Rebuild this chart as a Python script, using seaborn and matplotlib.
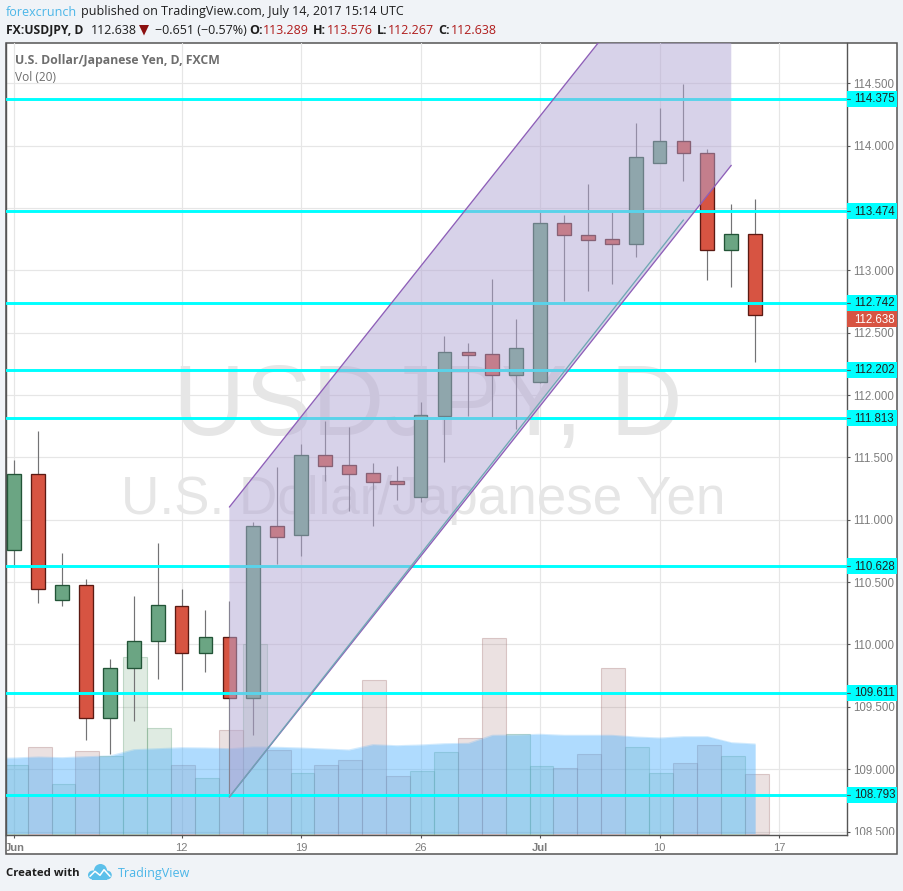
#!/usr/bin/env python3
"""USD/JPY daily candles with channel, support lines and volume, TradingView look."""

import numpy as np
import pandas as pd
import matplotlib
matplotlib.use("Agg")
import matplotlib.pyplot as plt
import seaborn as sns
from matplotlib.colors import to_rgb
from matplotlib.patches import Ellipse, Polygon, Rectangle
from matplotlib.transforms import Bbox, TransformedBbox

W, H = 904, 891

# --- data ---
opens = [110.755, 111.365, 110.354, 110.474, 109.408, 109.809, 110.025, 110.306,
         109.929, 110.057, 109.568, 110.948, 110.880, 111.517, 111.437, 111.373,
         111.308, 111.185, 111.834, 112.343, 112.327, 112.163, 112.102, 113.380,
         113.280, 113.249, 113.209, 113.863, 114.035, 113.939, 113.161, 113.289]
highs = [111.479, 111.712, 110.734, 110.525, 109.884, 110.389, 110.814, 110.445,
         110.276, 110.349, 110.982, 111.423, 111.608, 111.792, 111.741, 111.455,
         111.431, 111.944, 112.474, 112.417, 112.931, 112.610, 113.476, 113.444,
         113.693, 113.468, 114.182, 114.302, 114.494, 113.973, 113.532, 113.576]
lows = [110.637, 110.335, 110.311, 109.234, 109.122, 109.386, 109.726, 109.637,
        109.782, 108.793, 109.274, 110.645, 110.709, 111.313, 111.070, 110.952,
        111.158, 111.142, 111.466, 111.834, 111.824, 111.730, 112.093, 112.757,
        112.834, 112.893, 113.107, 113.863, 113.717, 112.923, 112.869, 112.267]
closes = [111.365, 110.442, 110.474, 109.408, 109.809, 110.025, 110.314, 109.929,
          110.057, 109.568, 110.948, 110.864, 111.517, 111.434, 111.369, 111.305,
          111.289, 111.838, 112.343, 112.324, 112.163, 112.375, 113.380, 113.280,
          113.243, 113.209, 113.907, 114.035, 113.939, 113.161, 113.289, 112.638]
volumes = [68.5, 87, 50, 83, 77.5, 177, 106, 69, 56, 104, 190, 84, 61, 69, 74, 153.5,
           58, 62.5, 82, 96, 195.5, 100, 68, 66, 80, 165.5, 87, 61, 71, 89, 78, 60]
# starts one session before the first candle, the area runs off the left edge
vol_ma = [75, 75.5, 76.5, 75.8, 76.8, 77.5, 83.8, 84.8, 85.8, 85.5, 84.8, 86.5, 86.2,
          85.5, 84.5, 83.5, 88.8, 87.8, 88.5, 89.8, 90.2, 98.2, 98.5, 99.2, 98.2,
          98.2, 98.2, 96.5, 95.5, 96.8, 96.8, 90.8, 89.5]

levels = [114.375, 113.474, 112.742, 112.202, 111.813, 110.628, 109.611, 108.793]
last_price = 112.638
price_ticks = [108.5, 109.0, 109.5, 110.0, 110.5, 111.0, 111.5, 112.0, 112.5, 113.0,
               113.5, 114.0, 114.5]
date_ticks = [0, 7, 12, 17, 22, 27, 32]
date_labels = ["Jun", "12", "19", "26", "Jul", "10", "17"]

channel_x = [9, 30]
channel_low = [108.777, 113.842]
channel_up = [111.102, 116.167]
trend_x = [9, 28]
trend_y = [108.777, 113.404]

# --- colours ---
BG = "#f0f3f7"
UP, UP_EDGE = "#6ba583", "#225437"
DOWN, DOWN_EDGE = "#d75442", "#5b1a13"
WICK = "#737375"
CYAN = "#00ffff"
FRAME = "#555555"
GRID = "#e6e6e6"
LABEL = "#7d7d7d"
LINK = "#4bb6e8"
QUOTE_RED = "#b01c1c"
HEAD = "#1e1e1e"
SANS = "Liberation Sans"
HEAD_FONT = "Open Sans"


def fx(x):
    return x / W


def fy(y):
    return 1 - y / H


def px_to_fig(pts):
    return [(fx(x), fy(y)) for x, y in pts]


sns.set_theme(style="white")
plt.rcParams["font.family"] = [HEAD_FONT, "DejaVu Sans"]

fig = plt.figure(figsize=(W / 100, H / 100), dpi=100, facecolor=BG)

# white panel with its frame, behind all the axes
fig.add_artist(Rectangle((fx(6.5), fy(854.3)), fx(897.3 - 6.5), 811 / H,
                         transform=fig.transFigure, facecolor="white",
                         edgecolor=FRAME, linewidth=1.1, zorder=-1))

pos = [fx(6.5), fy(835), fx(846.7 - 6.5), 792 / H]
xlim = (-0.326, 34.83)
ylim = (108.472, 114.823)

# grid and watermark at the bottom
ax_bg = fig.add_axes(pos, zorder=1)
ax_bg.set_xlim(xlim)
ax_bg.set_ylim(ylim)
ax_bg.set_xticks(date_ticks)
ax_bg.set_yticks(price_ticks)
ax_bg.grid(True, color=GRID, linewidth=0.85)
ax_bg.tick_params(left=False, bottom=False, labelleft=False, labelbottom=False)
for s in ax_bg.spines.values():
    s.set_visible(False)
ax_bg.patch.set_visible(False)
ax_bg.text(17.32, 111.89, "USDJPY, D", family=SANS, fontsize=72, color="#e6e6e6",
           ha="center", va="center")
ax_bg.text(17.12, 111.16, "U.S. Dollar/Japanese Yen", family=SANS, fontsize=38.2,
           color="#e6e6e6", ha="center", va="center")

# volume, own scale in the same place
ax_vol = fig.add_axes(pos, zorder=2)
ax_vol.patch.set_visible(False)
vol_df = pd.DataFrame({
    "session": np.arange(len(volumes)) + 0.06,
    "volume": volumes,
    "dir": ["up" if c >= o else "down" for o, c in zip(opens, closes)],
})
sns.barplot(data=vol_df, x="session", y="volume", hue="dir", dodge=False, native_scale=True,
            width=1.0, palette={"up": "#55a569", "down": "#a56464"}, legend=False, ax=ax_vol)
for bar in ax_vol.patches:
    rgb = to_rgb(bar.get_facecolor()[:3])
    bar.set_alpha(None)
    bar.set_facecolor((*rgb, 0.2))
    bar.set_edgecolor((*rgb, 0.33))
    bar.set_linewidth(0.8)
ma_x = np.arange(-1, len(volumes))
ax_vol.fill_between(ma_x, vol_ma, 0, color="#4fb1fd", alpha=0.45, linewidth=0, zorder=3)
sns.lineplot(x=ma_x, y=vol_ma, color="#4fb1fd", alpha=0.25, linewidth=0.8, ax=ax_vol, zorder=3)
ax_vol.set_xlim(xlim)
ax_vol.set_ylim(-1.5, 790.5)
ax_vol.axis("off")

# candles, levels and channel on top
ax = fig.add_axes(pos, zorder=3)
ax.patch.set_visible(False)
ax.set_xlim(xlim)
ax.set_ylim(ylim)

xs = np.arange(len(opens))
o, c = np.array(opens), np.array(closes)
up = c >= o
ax.vlines(xs, lows, highs, color=WICK, linewidth=0.85, zorder=2)
ax.bar(xs, np.abs(c - o), bottom=np.minimum(o, c), width=0.575,
       color=[UP if u else DOWN for u in up],
       edgecolor=[UP_EDGE if u else DOWN_EDGE for u in up], linewidth=0.95, zorder=3)

for lv in levels:
    ax.axhline(lv, color=CYAN, linewidth=2.1, zorder=4)

ax.fill_between(channel_x, channel_low, channel_up, color="#b2a7d4", alpha=0.51,
                linewidth=0, zorder=5)
ax.plot(channel_x, channel_low, color="#8e5fb8", linewidth=0.95, zorder=6)
ax.plot(channel_x, channel_up, color="#8e5fb8", linewidth=0.95, zorder=6)
ax.plot(trend_x, trend_y, color="#6fa8b4", linewidth=0.95, zorder=6)

# axes furniture; 113.500 sits behind the 113.474 box in the reference, no label needed
ax.yaxis.tick_right()
ax.set_yticks(price_ticks)
ax.set_yticklabels(["" if t == 113.5 else f"{t:.3f}" for t in price_ticks], family=SANS,
                   fontsize=8.3, color=LABEL)
ax.set_xticks(date_ticks)
ax.set_xticklabels(date_labels, family=SANS, fontsize=8.0, color=LABEL)
ax.tick_params(axis="y", right=True, length=2, width=0.8, color=FRAME, pad=3.0)
ax.tick_params(axis="x", bottom=True, length=2.5, width=0.8, color=FRAME, pad=3.4)
for lab, txt in zip(ax.get_xticklabels(), date_labels):
    if txt in ("Jun", "Jul"):
        lab.set_fontweight("bold")
ax.spines["top"].set_visible(False)
for name in ("left", "right", "bottom"):
    ax.spines[name].set_color(FRAME)
    ax.spines[name].set_linewidth(1.0)

# 108.500 is cut off by the bottom of the pane
clip_bb = TransformedBbox(Bbox([[fx(846), fy(835)], [fx(897), fy(43)]]), fig.transFigure)
for lab in ax.get_yticklabels():
    lab.set_clip_on(True)
    lab.set_clip_box(clip_bb)

# price boxes on the scale
ytrans = ax.get_yaxis_transform()
box_w = 50 / 840.2
box_h = 16 / 124.7
txt_x = 1 + 7.0 / 840.2
for lv in levels:
    ax.add_patch(Rectangle((1.0, lv - box_h / 2), box_w, box_h, transform=ytrans,
                           facecolor=CYAN, edgecolor="none", clip_on=False, zorder=7))
    ax.text(txt_x, lv - 0.004, f"{lv:.3f}", transform=ytrans, family=SANS, fontsize=8.3,
            color="#222222", ha="left", va="center", clip_on=False, zorder=8)
    ax.plot([1.0, 1 + 3 / 840.2], [lv, lv], transform=ytrans, color=FRAME, linewidth=0.8,
            clip_on=False, zorder=8)
# the last price box is pushed down a little to clear the 112.742 box
last_y = last_price - 0.029
ax.add_patch(Rectangle((1.0, last_y - box_h / 2), box_w, box_h, transform=ytrans,
                       facecolor=DOWN, edgecolor="none", clip_on=False, zorder=7))
ax.text(txt_x, last_y - 0.004, f"{last_price:.3f}", transform=ytrans, family=SANS,
        fontsize=8.3, color="white", ha="left", va="center", clip_on=False, zorder=8)

# pane captions
fig.text(fx(15), fy(60.5), "U.S. Dollar/Japanese Yen, D, FXCM", family=HEAD_FONT, fontsize=8.8,
         color="#6e6e6e", fontweight="bold", va="center", ha="left", zorder=10)
fig.text(fx(15), fy(77.5), "Vol (20)", family=HEAD_FONT, fontsize=8.6, color="#6e6e6e",
         va="center", ha="left", zorder=10)


# header and footer
def put(x, y, s, color=HEAD, weight="normal", size=9.0):
    fig.text(fx(x), fy(y), s, family=HEAD_FONT, fontsize=size, color=color, fontweight=weight,
             ha="left", va="center", zorder=10)


put(6, 12, "forexcrunch", color=LINK)
put(81, 12, "published on TradingView.com, July 14, 2017 15:14 UTC")
put(6, 30, "FX:USDJPY, D", weight="bold", size=8.7)
put(90.5, 30, "112.638")
fig.add_artist(Polygon(px_to_fig([(139, 25), (149, 25), (144, 35.5)]), closed=True,
                       transform=fig.transFigure, facecolor="#8b0f0f", edgecolor="none"))
put(155, 30, "−0.651 (−0.57%)")
for x_lab, lab, x_val, val in [(249, "O:", 263, "113.289"), (313, "H:", 327, "113.576"),
                               (377, "L:", 388, "112.267"), (438, "C:", 451, "112.638")]:
    put(x_lab, 30, lab, weight="bold")
    put(x_val, 30, val, color=QUOTE_RED)

put(6.5, 873.5, "Created with", weight="bold", size=8.2)
put(118, 873.5, "TradingView", color=LINK)

# logo: little cloud with a white zigzag
LOGO = "#5cc0ea"
for cx, cy, ew, eh in [(93, 875, 10, 9), (100.5, 870.5, 13, 13), (107, 875, 9.5, 9)]:
    fig.add_artist(Ellipse((fx(cx), fy(cy)), ew / W, eh / H, transform=fig.transFigure,
                           facecolor=LOGO, edgecolor="none"))
fig.add_artist(Rectangle((fx(92), fy(879.5)), 15 / W, 6 / H, transform=fig.transFigure,
                         facecolor=LOGO, edgecolor="none"))
zig = px_to_fig([(90, 876.3), (95, 871.3), (100, 875.3), (104, 869.7), (110, 876.3)])
fig.add_artist(plt.Line2D([p[0] for p in zig], [p[1] for p in zig], transform=fig.transFigure,
                          color="white", linewidth=1.1))

fig.savefig("out.png", dpi=100, facecolor=BG)
